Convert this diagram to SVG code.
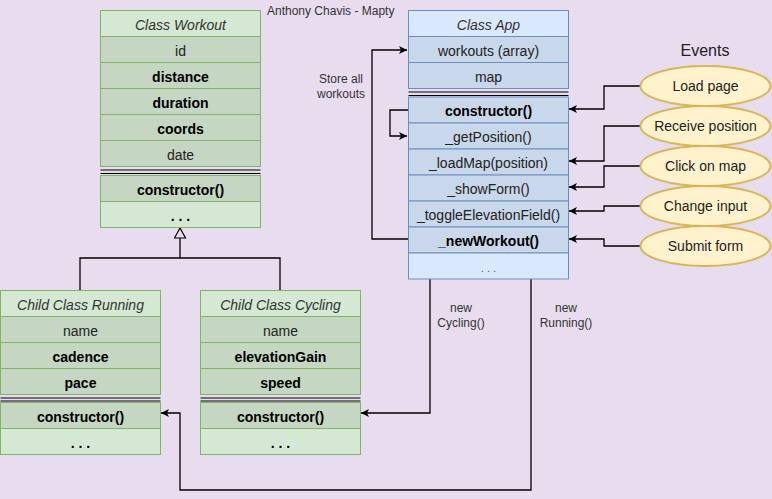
<svg xmlns="http://www.w3.org/2000/svg" width="772" height="499" viewBox="0 0 772 499">
<style>
text{font-family:"Liberation Sans",Arial,sans-serif;text-anchor:middle;}
.t{font-size:14px;fill:#222;}
.b{font-size:14px;font-weight:bold;fill:#000;}
.i{font-size:14px;font-style:italic;fill:#333;}
.s{font-size:12px;fill:#333;}
.gh{fill:#d5e8d4;stroke:#82b366;stroke-width:1;}
.gr{fill:#c5d7c2;stroke:#82b366;stroke-width:1;}
.bh{fill:#dae8fc;stroke:#6c8ebf;stroke-width:1;}
.br{fill:#c8d7ea;stroke:#6c8ebf;stroke-width:1;}
.sep{stroke:#000;stroke-width:1.2;}
.ev{fill:#fff2cc;stroke:#d6b656;stroke-width:2;}
.c{fill:none;stroke:#000;stroke-width:1.3;}
</style>
<defs>
<marker id="a" markerWidth="10" markerHeight="10" refX="9" refY="5" orient="auto" markerUnits="userSpaceOnUse">
<path d="M1,1 L9,5 L1,9 L3,5 Z" fill="#000"/>
</marker>
<marker id="tri" markerWidth="14" markerHeight="14" refX="11" refY="6" orient="auto" markerUnits="userSpaceOnUse">
<path d="M1,0.5 L11,6 L1,11.5 Z" fill="#e8ddef" stroke="#000" stroke-width="1.2"/>
</marker>
</defs>
<rect width="772" height="499" fill="#e8ddef"/>
<text x="267" y="15" style="font-size:12px;fill:#333;text-anchor:start">Anthony Chavis - Mapty</text>
<text x="705" y="56" style="font-size:16px;fill:#222">Events</text>

<g id="connectors">
<path class="c" d="M80,290 V258 H280 V290"/>
<path class="c" d="M180,258 V228" marker-end="url(#tri)"/>
<path class="c" d="M408,239 H372 V50 H407" marker-end="url(#a)"/>
<path class="c" d="M408,110 H390 V136 H407" marker-end="url(#a)"/>
<path class="c" d="M640,86 H604 V109 H569" marker-end="url(#a)"/>
<path class="c" d="M640,126 H604 V161 H569" marker-end="url(#a)"/>
<path class="c" d="M640,166 H604 V187 H569" marker-end="url(#a)"/>
<path class="c" d="M640,206 H604 V211 H569" marker-end="url(#a)"/>
<path class="c" d="M640,246 H604 V239 H569" marker-end="url(#a)"/>
<path class="c" d="M430,253 V413 H361" marker-end="url(#a)"/>
<path class="c" d="M531,253 V490 H180 V413 H161" marker-end="url(#a)"/>
<text class="s" x="461" y="312">new</text>
<text class="s" x="461" y="327">Cycling()</text>
<text class="s" x="566" y="312">new</text>
<text class="s" x="566" y="327">Running()</text>
<text class="s" x="341" y="83">Store all</text>
<text class="s" x="341" y="98">workouts</text>
</g>

<g id="workout">
<rect class="gh" x="100.5" y="10.5" width="160" height="26"/>
<text class="i" x="180.5" y="29.5">Class Workout</text>
<rect class="gr" x="100.5" y="36.5" width="160" height="26"/>
<text class="t" x="180.5" y="55.5">id</text>
<rect class="gr" x="100.5" y="62.5" width="160" height="26"/>
<text class="b" x="180.5" y="81.5">distance</text>
<rect class="gr" x="100.5" y="88.5" width="160" height="26"/>
<text class="b" x="180.5" y="107.5">duration</text>
<rect class="gr" x="100.5" y="114.5" width="160" height="26"/>
<text class="b" x="180.5" y="133.5">coords</text>
<rect class="gr" x="100.5" y="140.5" width="160" height="26"/>
<text class="t" x="180.5" y="159.5">date</text>
<line class="sep" x1="100.5" y1="170" x2="260.5" y2="170"/>
<line class="sep" x1="100.5" y1="173.5" x2="260.5" y2="173.5"/>
<rect class="gr" x="100.5" y="175.5" width="160" height="26"/>
<text class="b" x="180.5" y="194.5">constructor()</text>
<rect class="gh" x="100.5" y="201.5" width="160" height="26"/>
<text class="b" x="180.5" y="220.5">. . .</text>
</g>

<g id="running">
<rect class="gh" x="0.5" y="290.5" width="160" height="26"/>
<text class="i" x="80.5" y="309.5">Child Class Running</text>
<rect class="gr" x="0.5" y="316.5" width="160" height="26"/>
<text class="t" x="80.5" y="335.5">name</text>
<rect class="gr" x="0.5" y="342.5" width="160" height="26"/>
<text class="b" x="80.5" y="361.5">cadence</text>
<rect class="gr" x="0.5" y="368.5" width="160" height="26"/>
<text class="b" x="80.5" y="387.5">pace</text>
<line class="sep" x1="0.5" y1="398" x2="160.5" y2="398"/>
<line class="sep" x1="0.5" y1="401" x2="160.5" y2="401"/>
<rect class="gr" x="0.5" y="402.5" width="160" height="26"/>
<text class="b" x="80.5" y="421.5">constructor()</text>
<rect class="gh" x="0.5" y="428.5" width="160" height="26"/>
<text class="b" x="80.5" y="447.5">. . .</text>
</g>

<g id="cycling">
<rect class="gh" x="200.5" y="290.5" width="160" height="26"/>
<text class="i" x="280.5" y="309.5">Child Class Cycling</text>
<rect class="gr" x="200.5" y="316.5" width="160" height="26"/>
<text class="t" x="280.5" y="335.5">name</text>
<rect class="gr" x="200.5" y="342.5" width="160" height="26"/>
<text class="b" x="280.5" y="361.5">elevationGain</text>
<rect class="gr" x="200.5" y="368.5" width="160" height="26"/>
<text class="b" x="280.5" y="387.5">speed</text>
<line class="sep" x1="200.5" y1="398" x2="360.5" y2="398"/>
<line class="sep" x1="200.5" y1="401" x2="360.5" y2="401"/>
<rect class="gr" x="200.5" y="402.5" width="160" height="26"/>
<text class="b" x="280.5" y="421.5">constructor()</text>
<rect class="gh" x="200.5" y="428.5" width="160" height="26"/>
<text class="b" x="280.5" y="447.5">. . .</text>
</g>

<g id="app">
<rect class="bh" x="408.5" y="10.5" width="160" height="26"/>
<text class="i" x="488.5" y="29.5">Class App</text>
<rect class="br" x="408.5" y="36.5" width="160" height="26"/>
<text class="t" x="488.5" y="55.5">workouts (array)</text>
<rect class="br" x="408.5" y="62.5" width="160" height="26"/>
<text class="t" x="488.5" y="81.5">map</text>
<line class="sep" x1="408.5" y1="92" x2="568.5" y2="92"/>
<line class="sep" x1="408.5" y1="95.5" x2="568.5" y2="95.5"/>
<rect class="br" x="408.5" y="97" width="160" height="26"/>
<text class="b" x="488.5" y="116">constructor()</text>
<rect class="br" x="408.5" y="123" width="160" height="26"/>
<text class="t" x="488.5" y="142">_getPosition()</text>
<rect class="br" x="408.5" y="149" width="160" height="26"/>
<text class="t" x="488.5" y="168">_loadMap(position)</text>
<rect class="br" x="408.5" y="175" width="160" height="26"/>
<text class="t" x="488.5" y="194">_showForm()</text>
<rect class="br" x="408.5" y="201" width="160" height="26"/>
<text class="t" x="488.5" y="220">_toggleElevationField()</text>
<rect class="br" x="408.5" y="227" width="160" height="26"/>
<text class="b" x="488.5" y="246">_newWorkout()</text>
<rect class="bh" x="408.5" y="253" width="160" height="26"/>
<text class="s" x="488.5" y="272" style="font-size:11px;fill:#555">. . .</text>
</g>

<g id="ev-load"><ellipse class="ev" cx="705.5" cy="86" rx="65" ry="20"/><text class="t" x="705.5" y="91">Load page</text></g>
<g id="ev-receive"><ellipse class="ev" cx="705.5" cy="126" rx="65" ry="20"/><text class="t" x="705.5" y="131">Receive position</text></g>
<g id="ev-click"><ellipse class="ev" cx="705.5" cy="166" rx="65" ry="20"/><text class="t" x="705.5" y="171">Click on map</text></g>
<g id="ev-change"><ellipse class="ev" cx="705.5" cy="206" rx="65" ry="20"/><text class="t" x="705.5" y="211">Change input</text></g>
<g id="ev-submit"><ellipse class="ev" cx="705.5" cy="246" rx="65" ry="20"/><text class="t" x="705.5" y="251">Submit form</text></g>
</svg>
